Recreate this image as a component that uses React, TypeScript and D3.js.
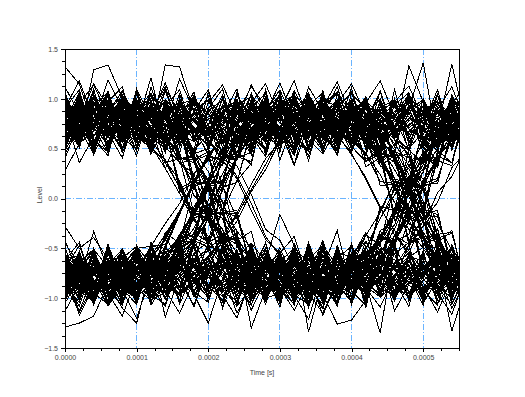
import { useRef, useEffect } from "react";
import * as d3 from "d3";

// sample instants of one eye window (s)
const sampleTimes = [
  0, 0.00002, 0.00004, 0.00006, 0.00008, 0.0001, 0.00012, 0.00014, 0.00016, 0.00018,
  0.0002, 0.00022, 0.00024, 0.00026, 0.00028, 0.0003, 0.00032, 0.00034, 0.00036, 0.00038,
  0.0004, 0.00042, 0.00044, 0.00046, 0.00048, 0.0005, 0.00052, 0.00054, 0.00056,
];

// one row per eye trace: signal level at each sample instant
const traces: number[][] = [
  // high - high - high
  [.95,.58,.81,1.02,.49,.77,.63,1.08,.70,.42,.88,.99,.56,.74,1.05,.61,.83,.38,.92,.69,1.11,.55,.79,.97,.47,.86,.66,1.03,.72],
  [.60,.89,.44,.76,.98,.53,1.12,.71,.85,.57,.67,.93,.40,.82,.75,1.06,.59,.90,.64,.48,.84,1.01,.62,.77,.91,.52,.96,.68,.80],
  [1.32,1.15,.72,.94,.57,1.10,.80,.46,.99,.66,.87,.51,1.04,.78,.62,.95,.69,.43,.88,1.07,.73,.58,.92,.81,.50,1.00,.64,.86,.76],
  [.40,.78,.97,.61,.85,.70,.50,.92,1.09,.63,.74,.47,.89,.66,1.02,.38,.80,.97,.45,.71,.90,.58,.83,.69,1.06,.55,.79,.93,.48],
  [.95,.68,1.10,.55,.99,.82,.64,1.34,1.32,.87,.59,1.01,.74,.48,.96,.83,.61,1.05,.77,.53,.90,.72,1.08,.60,.86,.97,.50,.78,.91],
  [.74,.52,.90,.66,.41,.85,.97,.60,.76,1.04,.55,.81,.69,.44,.93,.78,.34,.88,1.00,.62,.47,.83,.71,.95,.57,.79,1.03,.65,.87],
  [.88,.60,1.29,1.34,1.01,.72,.95,.53,.81,1.00,.64,.87,.45,.92,.70,1.06,.58,.84,.76,.43,.98,.67,.80,.52,.94,.75,1.09,.61,.83],
  [.66,.93,.50,1.04,.75,.58,.86,1.12,.62,.45,.91,.73,1.00,.54,.68,.89,1.18,.77,.49,.84,.99,.63,.42,.95,.71,.82,.57,.97,.79],
  [.55,.84,.71,.99,.46,.80,.67,.92,.59,1.03,.73,.39,.86,.64,.97,.57,.82,1.01,.69,.88,.51,.76,.94,.61,.85,.70,1.05,.48,.90],
  [1.03,.70,.87,.52,.78,.96,.61,.83,.74,.48,1.07,.65,.91,.80,.56,.72,.98,.60,.85,1.12,.67,.44,.89,.79,.63,.93,.77,.54,1.00],
  [.79,1.06,.62,.88,.72,.43,.93,.81,.58,.97,.69,.84,1.10,.53,.76,.90,.65,.48,.95,.73,.82,1.02,.59,.70,.87,.46,.92,.68,.99],
  [.48,.74,.90,.63,1.08,.79,.56,.88,.97,.68,.52,.83,.75,1.04,.61,.86,.45,.78,.92,.66,.71,.96,.55,.81,1.01,.64,.89,.73,.58],
  [.72,.80,.91,.85,.66,.58,.70,.87,.96,.81,.64,.55,.69,.83,.78,.92,1.04,.88,.71,.62,.75,.90,.84,.67,.73,.86,.95,.79,.68],
  [.62,.55,.68,.79,.74,.90,1.01,.93,.77,.85,.70,.61,.74,.88,.97,.83,.69,.57,.66,.80,.92,.86,.71,.60,.78,.89,.82,.94,1.00],
  [.88,.95,.80,.69,.77,.64,.53,.67,.82,.90,.98,.84,.73,.60,.71,.86,.79,.93,.85,.72,.63,.58,.76,.87,.99,.91,.74,.69,.81],
  [.59,.67,.81,.88,.72,.79,.93,.84,.65,.57,.71,.80,.95,1.02,.89,.76,.68,.82,.90,.77,.66,.73,.85,.92,.70,.61,.64,.78,.87],
  [.81,.70,.63,.76,.89,.97,.86,.75,.92,.83,.68,.78,.91,.84,.69,.58,.72,.87,.79,.94,1.05,.90,.74,.66,.80,.93,.85,.72,.60],
  [.70,.84,.77,.62,.57,.73,.86,.80,.94,1.00,.85,.74,.66,.79,.90,.82,.95,.76,.63,.71,.88,.81,.69,.83,.96,.87,.75,.91,.84],
  [.70,.78,1.15,.92,.64,.81,.55,.73,1.20,.88,.67,.94,.76,.52,.85,1.16,.79,.61,.90,.71,.58,.96,1.18,.83,.65,.74,.89,1.12,.77],
  [.83,.36,.62,.88,.79,.97,.71,.30,.66,.84,.91,.58,.77,1.14,.86,.69,.33,.75,.92,.80,.64,.43,.87,.73,.98,.60,.35,.82,.70],
  [.57,.66,.79,.72,.87,.69,.61,.75,.58,.49,.64,.70,.56,.81,.62,.53,.68,.77,.60,.71,.52,.65,.74,.59,.50,.67,.63,.55,.72],
  // low - low - low
  [-.80,-.54,-.97,-.66,-1.05,-.72,-.48,-.89,-.61,-.99,-.76,-1.08,-.57,-.84,-.69,-.93,-.45,-.81,-1.02,-.63,-.88,-.70,-.52,-.95,-.78,-.60,-1.06,-.83,-.73],
  [-1.29,-1.25,-1.18,-.86,-1.10,-1.25,-.67,-.94,-.53,-.81,-1.00,-.71,-.60,-.92,-.77,-.49,-.86,-1.07,-.68,-.96,-.58,-.83,-.74,-1.03,-.62,-.90,-.70,-.98,-.79],
  [-.66,-.91,-.52,-.84,-.73,-1.01,-.59,-.88,-.95,-.40,-.75,-1.04,-.64,-.79,-.97,-.56,-.82,-1.09,-.70,-.32,-.92,-.67,-.85,-1.00,-.55,-.78,-.61,-1.33,-.87],
  [-.92,-.68,-.83,-1.06,-.57,-.88,-.75,-1.01,-.62,-.96,-1.25,-.80,-.54,-1.30,-.91,-.71,-.59,-.99,-.84,-1.07,-.66,-.93,-.78,-.50,-1.02,-.74,-.87,-1.00,-.63],
  [-.71,-.47,-.89,-.78,-.58,-1.03,-.44,-.82,-.96,-.65,-.52,-.90,-1.08,-.60,-.79,-.97,-.49,-.84,-.68,-1.05,-.57,-.86,-1.35,-.50,-.95,-.66,-1.01,-.61,-.83],
  [-.85,-.64,-1.07,-.53,-.91,-1.00,-.69,-.82,-.45,-.94,-1.04,-.62,-.55,-.88,-.76,-1.09,-.51,-1.34,-.80,-.97,-.63,-.90,-.58,-.79,-.47,-1.02,-.72,-.95,-.86],
  [-.28,-.50,-.39,-.61,-.87,-.48,-.76,-.58,-.93,-.44,-.70,-.85,-.51,-.97,-.63,-.16,-.47,-.74,-1.01,-.55,-.82,-.43,-.69,-.92,-.57,-.78,-.49,-.88,-.62],
  [-.77,-1.00,-.62,-1.08,-.86,-.55,-.99,-.73,-.64,-.94,-.59,-1.10,-.71,-.92,-.50,-1.02,-.79,-.60,-.96,-1.26,-1.22,-1.02,-.68,-.97,-.56,-1.05,-.81,-.63,-.95],
  [-.62,-.88,-.74,-1.03,-.50,-.81,-.95,-.58,-.77,-1.09,-.66,-.43,-.89,-.72,-1.00,-.60,-.84,-.53,-.98,-.70,-1.06,-.64,-.87,-.46,-.79,-.93,-.57,-.82,-.69],
  [-1.02,-.69,-.55,-.90,-.76,-.61,-1.07,-.84,-.49,-.97,-.73,-.59,-1.01,-.80,-.44,-.92,-.67,-.85,-1.11,-.63,-.78,-.95,-.52,-.71,-.99,-.58,-.88,-.75,-1.04],
  [-.83,-1.08,-.64,-.77,-.95,-.52,-.86,-.70,-1.02,-.61,-.90,-.47,-.79,-.98,-.66,-.74,-1.05,-.57,-.82,-.93,-.45,-.89,-.68,-1.00,-.76,-.54,-.96,-.71,-.87],
  [-.57,-.79,-.94,-.46,-.85,-.70,-1.00,-.63,-.89,-.75,-.98,-.54,-.81,-.67,-1.06,-.60,-.91,-.78,-.42,-.87,-.72,-1.03,-.65,-.84,-.59,-.97,-.74,-.51,-.90],
  [-.74,-.86,-.93,-.80,-.67,-.59,-.71,-.85,-.96,-.88,-.72,-.63,-.70,-.82,-.91,-.78,-.66,-.75,-.89,-1.00,-.87,-.73,-.61,-.69,-.84,-.92,-.79,-.68,-.76],
  [-.63,-.57,-.72,-.81,-.75,-.90,-1.02,-.94,-.78,-.66,-.73,-.87,-.80,-.69,-.58,-.67,-.83,-.95,-.86,-.71,-.64,-.77,-.90,-.98,-.85,-.70,-.62,-.74,-.88],
  [-.90,-.97,-.84,-.70,-.78,-.65,-.55,-.68,-.83,-.92,-.79,-.71,-.86,-.99,-.88,-.74,-.62,-.73,-.85,-.93,-.81,-.67,-.59,-.72,-.87,-.96,-.80,-.69,-.64],
  [-.58,-.69,-.82,-.89,-.73,-.80,-.94,-.85,-.66,-.60,-.74,-.88,-.97,-.83,-.70,-.79,-.91,-.76,-.65,-.72,-.86,-.95,-.81,-.68,-.63,-.77,-.90,-.84,-.71],
  [-.82,-.71,-.64,-.77,-.90,-.98,-.87,-.76,-.69,-.81,-.93,-.85,-.72,-.60,-.68,-.80,-.89,-.96,-.83,-.70,-.75,-.88,-.99,-.86,-.73,-.66,-.78,-.91,-.79],
  [-.69,-.83,-.76,-.63,-.58,-.72,-.85,-.94,-.88,-.75,-.67,-.79,-.92,-1.01,-.87,-.74,-.61,-.70,-.84,-.90,-.78,-.65,-.73,-.86,-.95,-.82,-.71,-.80,-.89],
  [-.75,-1.17,-.88,-.62,-.83,-.94,-.56,-1.19,-.78,-.69,-.91,-.74,-1.15,-.85,-.60,-.79,-.97,-1.21,-.72,-.66,-.89,-.81,-.58,-1.13,-.86,-.70,-.95,-1.16,-.77],
  [-.64,-.82,-.33,-.71,-.90,-.57,-.79,-.36,-.68,-.85,-.74,-.31,-.62,-.93,-.77,-.55,-.38,-.81,-.70,-.96,-.59,-.34,-.73,-.87,-.63,-.80,-.42,-.69,-.84],
  [-.57,-.64,-.51,-.69,-.60,-.48,-.66,-.55,-.73,-.62,-.50,-.67,-.58,-.45,-.63,-.71,-.54,-.61,-.47,-.68,-.56,-.65,-.52,-.70,-.59,-.49,-.64,-.57,-.62],
  // high - high - low
  [.78,1.01,.56,.89,.64,1.07,.49,.83,.95,.61,.74,1.04,.52,.86,.97,.68,.43,.91,.80,.58,1.00,.83,.36,.47,-.14,-.12,-.73,-.58,-.94],
  [.57,.82,1.03,.47,.91,.66,1.06,.79,.53,.88,1.09,.62,.45,.95,.74,.59,1.02,.70,.87,.48,.80,.32,.41,-.18,-.19,-.71,-.55,-.98,-.62],
  [.96,.62,1.08,.71,.50,.93,.77,.99,.45,1.02,.67,.85,.54,1.06,.72,.49,.98,.66,1.04,.58,.90,.74,.86,.39,.54,-.17,-.18,-.64,-.57],
  [.45,.70,.86,1.05,.58,.92,.99,.47,.80,1.07,.55,.84,1.00,.63,.42,.89,1.05,.61,.96,.52,.79,.92,.41,.45,-.12,-.20,-.77,-.48,-.98],
  [1.06,.72,.55,.97,1.12,.63,.50,.94,.68,1.03,.48,.87,.99,.60,1.09,.53,.92,1.01,.66,.44,.98,.49,.75,.12,.16,-.41,-.35,-.91,-.57],
  [.55,.97,.46,.84,1.00,.51,.91,.64,1.05,.58,.87,.42,.99,.70,.56,1.07,.48,.88,1.01,.61,.86,.37,.50,-.22,-.08,-.76,-.44,-1.02,-.61],
  [.74,.53,1.01,.92,.57,.88,1.06,.47,.97,.60,.90,1.10,.54,.96,.44,1.01,.83,.51,.98,.93,.49,.95,.55,.67,.41,.19,-.40,-.35,-.87],
  [.91,1.09,.60,.43,.98,.72,.53,1.11,.68,.95,.49,1.02,.59,.90,1.06,.64,.45,.97,.58,1.04,.87,.60,.66,.14,.18,-.49,-.30,-.88,-.96],
  [.67,.88,.51,.95,.73,.84,.44,.99,.61,.78,1.03,.56,.86,.70,.47,.92,.75,.59,1.07,.65,.82,.52,.70,.43,-.20,-.22,-.66,-.81,-.60],
  [.83,.60,.97,.71,.48,1.05,.76,.58,.90,.67,.54,.94,.79,.45,1.00,.63,.85,.50,.73,.98,.52,.64,.13,.14,-.43,-.40,-.87,-.62,-.90],
  [.59,.93,.72,.46,1.04,.81,.65,.92,.52,.87,.99,.68,.41,.95,.76,.57,1.08,.82,.63,.89,.70,.95,.57,.72,.14,.09,-.45,-.32,-.91],
  [.98,.66,.85,1.03,.56,.74,.93,.48,1.01,.69,.80,.58,1.06,.62,.90,.71,.49,.97,.84,.55,.91,.60,.46,.41,.08,-.37,-.62,-.50,-.84],
  [.76,.88,.95,.82,.69,.61,.73,.86,.93,.79,.66,.74,.87,.96,.84,.71,.63,.78,.90,.83,.68,.55,.38,.20,-.08,-.34,-.55,-.77,-.86],
  [.66,.59,.71,.84,.92,.80,.67,.75,.89,.97,.85,.72,.64,.77,.90,.81,.70,.62,.74,.88,.93,.79,.66,.49,.24,-.06,-.37,-.66,-.80],
  [.85,.78,.64,.70,.83,.95,.88,.74,.63,.69,.82,.91,.80,.68,.75,.87,.94,.83,.71,.65,.78,.70,.52,.29,.05,-.22,-.48,-.63,-.70],
  [.93,.81,.70,.62,.76,.89,.97,.84,.72,.66,.79,.90,.98,.86,.73,.61,.68,.82,.91,.77,.69,.84,.74,.55,.33,.08,-.25,-.52,-.66],
  [.61,.73,.87,.80,.68,.77,.92,.99,.85,.71,.63,.76,.89,.82,.70,.59,.72,.85,.94,.86,.75,.66,.47,.36,.02,-.24,-.47,-.70,-.84],
  [.79,.91,.84,.72,.65,.78,.88,.96,.81,.69,.74,.86,.93,.77,.64,.71,.83,.92,.80,.67,.58,.45,.24,-.04,-.31,-.50,-.73,-.83,-.69],
  [1.12,.85,.74,1.19,.90,.67,.83,1.16,.78,.59,.96,1.14,.82,.70,.88,1.09,.76,.63,.92,1.17,.81,.69,.86,.35,.30,-.03,-.52,-.80,-1.11],
  [.74,.90,.62,.85,.97,.68,.80,.59,.92,.77,.66,.88,.95,.71,.83,.64,.91,.79,.69,.64,.45,.19,-.10,-.32,-.58,-.63,-.86,-.73,-.92],
  // low - low - high
  [-.72,-1.00,-.53,-.86,-1.04,-.61,-.91,-.47,-.83,-1.07,-.65,-.94,-.57,-1.01,-.78,-.95,-.50,-1.09,-.68,-.88,-1.02,-.74,-.38,-.45,.16,.11,.70,.52,.95],
  [-.97,-.60,-1.05,-.76,-.52,-.89,-.68,-1.00,-.58,-.84,-.45,-.93,-1.03,-.66,-.55,-.90,-.71,-1.08,-.57,-.92,-.49,-.66,-.12,.17,.19,.69,.55,1.00,.60],
  [-.60,-.89,-.99,-.54,-1.02,-.79,-.48,-.96,-.88,-.61,-.98,-.50,-.83,-1.07,-.66,-.92,-.55,-.74,-1.03,-.47,-.86,-.63,-.81,-.36,-.52,.15,.20,.61,.55],
  [-1.05,-.80,-.56,-.99,-.67,-.52,-.93,-.71,-1.04,-.46,-.87,-.62,-.98,-.54,-.77,-1.03,-.50,-.91,-.84,-.60,-.48,-.90,-.37,-.43,-.19,.44,.31,.87,.65],
  [-.56,-.82,-1.01,-.47,-.91,-1.06,-.63,-.88,-.52,-.99,-.74,-.58,-1.08,-.90,-.51,-.81,-1.02,-.57,-.86,-.97,-.60,-.43,-.71,-.12,.22,.10,.74,.57,1.01],
  [-.88,-1.04,-.62,-.95,-.79,-.49,-.97,-1.06,-.58,-.83,-.92,-.53,-.76,-1.02,-.68,-.55,-1.00,-.84,-.45,-.94,-.65,-.36,-.47,.15,.07,.73,.46,.99,.58],
  [-.94,-.58,-.81,-1.08,-.63,-.99,-.51,-.74,-1.02,-.55,-.91,-.70,-1.05,-.46,-.85,-.62,-.97,-.54,-1.00,-.79,-.92,-.48,-.83,-.56,-.44,-.18,.43,.36,.83],
  [-.62,-.44,-.90,-.78,-1.07,-.53,-1.02,-.85,-.70,-.48,-1.04,-.59,-.92,-.46,-1.00,-.95,-.61,-.86,-1.09,-.51,-.83,-.64,-.62,-.14,.20,.47,.33,.96,.60],
  [-.80,-.57,-1.01,-.69,-.93,-.47,-.88,-.62,-1.06,-.73,-.58,-.97,-.83,-.51,-1.00,-.70,-.92,-.44,-.86,-1.03,-.64,-.89,-.45,-.27,.12,.30,.60,.91,.66],
  [-1.00,-.74,-.51,-.96,-.86,-.59,-1.05,-.67,-.93,-.48,-.88,-1.02,-.55,-.77,-.99,-.63,-.50,-.90,-1.06,-.56,-.82,-.50,-.20,.09,.37,.41,.90,.61,.96],
  [-.48,-.95,-.66,-1.03,-.76,-.54,-.90,-1.08,-.61,-.84,-.99,-.45,-.72,-.94,-.57,-.87,-1.01,-.64,-.52,-.96,-.69,-.80,-.55,-.67,-.20,-.12,.38,.33,.94],
  [-.90,-.65,-.98,-.55,-.81,-1.03,-.60,-.87,-.72,-.46,-.95,-.68,-.53,-1.06,-.79,-.58,-.84,-1.00,-.49,-.73,-.92,-.59,-.40,-.43,.07,.26,.71,.52,.88],
  [-.78,-.90,-.83,-.70,-.64,-.76,-.88,-.95,-.81,-.68,-.73,-.86,-.94,-.79,-.66,-.72,-.85,-.92,-.80,-.69,-.71,-.58,-.40,-.12,.10,.38,.57,.73,.84],
  [-.64,-.72,-.85,-.93,-.79,-.68,-.75,-.88,-.97,-.84,-.70,-.62,-.74,-.87,-.91,-.77,-.66,-.73,-.86,-.94,-.82,-.76,-.60,-.44,-.18,.11,.42,.58,.75],
  [-.88,-.76,-.67,-.73,-.86,-.94,-.83,-.70,-.62,-.75,-.89,-.98,-.85,-.71,-.64,-.78,-.90,-.82,-.69,-.75,-.79,-.64,-.45,-.18,.13,.44,.63,.70,.81],
  [-.70,-.83,-.91,-.78,-.65,-.60,-.73,-.87,-.95,-.81,-.68,-.77,-.89,-.84,-.71,-.63,-.76,-.92,-.87,-.74,-.67,-.70,-.63,-.38,-.16,.19,.39,.66,.71],
  [-.93,-.80,-.71,-.65,-.78,-.90,-.97,-.85,-.73,-.66,-.79,-.91,-.86,-.72,-.61,-.70,-.84,-.95,-.88,-.76,-.82,-.63,-.55,-.31,.05,.27,.50,.74,.82],
  [-.61,-.74,-.88,-.96,-.83,-.70,-.66,-.79,-.92,-.85,-.71,-.64,-.77,-.90,-.98,-.84,-.72,-.65,-.80,-.87,-.64,-.51,-.20,.03,.33,.55,.69,.80,.88],
  [-1.13,-.87,-.70,-.95,-1.18,-.79,-.66,-.92,-1.15,-.83,-.71,-.97,-1.20,-.80,-.68,-.90,-1.12,-.85,-.74,-.93,-.61,-.72,-.32,-.27,.20,.29,.72,.95,1.14],
  [-.70,-.84,-.96,-.65,-.79,-.88,-.61,-.93,-.75,-.67,-.90,-.82,-.58,-.86,-.97,-.72,-.63,-.89,-.78,-.94,-.68,-.81,-.73,-.66,-.55,-.22,-.04,.31,.47],
  // high - low - low
  [.80,.52,.97,.66,1.03,.59,.91,.57,.68,.17,.14,-.45,-.38,-.87,-.60,-1.02,-.49,-.93,-.71,-1.05,-.56,-.84,-.98,-.64,-.79,-1.07,-.52,-.90,-.70],
  [.63,.99,.50,.86,1.08,.71,.55,.70,.10,.18,-.44,-.36,-.92,-.58,-.83,-1.04,-.60,-.89,-.47,-.97,-.73,-1.01,-.54,-.86,-.66,-.95,-.50,-1.06,-.77],
  [.91,.62,1.04,.49,.83,1.00,.68,.86,.56,.72,.43,-.12,-.14,-.70,-.50,-.96,-.58,-1.04,-.71,-.88,-.49,-.99,-.65,-.83,-1.08,-.55,-.92,-.74,-1.00],
  [1.02,.70,.55,.96,.81,.48,1.06,.58,.72,.38,-.12,-.20,-.69,-.58,-.95,-.52,-1.00,-.77,-.63,-1.08,-.47,-.90,-.71,-.55,-1.03,-.67,-.97,-.46,-.84],
  [.28,.55,.92,.47,1.01,.65,.86,.52,.77,.20,.13,-.38,-.46,-.81,-.62,-1.01,-.53,-.88,-.99,-.57,-1.06,-.69,-.94,-.48,-1.02,-.78,-.55,-.96,-.63],
  [.88,.57,.94,1.06,.60,.99,.47,.67,.15,-.16,-.12,-.70,-.55,-.96,-.58,-.91,-1.06,-.53,-.80,-.99,-.61,-1.09,-.50,-.94,-.70,-1.01,-.47,-.85,-1.03],
  [.69,1.03,.48,.93,.60,1.05,.77,.58,.84,.38,.44,-.14,-.18,-.70,-.87,-.55,-.97,-1.06,-.51,-.90,-.99,-.60,-.45,-1.02,-.73,-.92,-1.07,-.56,-.81],
  [.76,.95,.56,.47,1.03,.87,.53,.86,.39,.44,-.14,-.16,-.73,-.53,-.97,-.60,-1.03,-.84,-.48,-.95,-.70,-1.05,-.58,-.87,-.99,-.52,-1.06,-.65,-.91],
  [.58,.83,1.05,.70,.49,.92,.61,.90,.40,.41,-.10,-.41,-.41,-.95,-.66,-.88,-.50,-1.04,-.74,-.57,-.93,-1.07,-.62,-.81,-.46,-.98,-.71,-.89,-1.05],
  [1.05,.66,.89,.53,.97,.72,.85,.36,.40,-.15,-.19,-.61,-.80,-.64,-1.02,-.58,-.93,-.47,-.86,-1.07,-.69,-.54,-.99,-.77,-.60,-1.04,-.82,-.50,-.92],
  [.54,.90,.71,1.08,.62,.49,.96,.60,.81,.45,.50,.13,-.20,-.54,-.93,-.64,-.98,-.54,-.88,-1.05,-.61,-.84,-.96,-.49,-.75,-1.03,-.66,-.90,-.57],
  [.95,.74,.50,.87,.64,1.09,.68,.92,.41,.36,.09,-.42,-.36,-.84,-.88,-.53,-.98,-.72,-1.03,-.59,-.85,-.47,-.94,-.68,-1.01,-.62,-.89,-1.06,-.74],
  [.82,.93,.79,.66,.72,.85,.70,.52,.36,.20,-.06,-.32,-.55,-.79,-.88,-.74,-.63,-.77,-.91,-.84,-.70,-.65,-.79,-.92,-.86,-.73,-.68,-.80,-.94],
  [.68,.76,.89,.97,.83,.71,.64,.78,.70,.48,.27,-.05,-.33,-.50,-.80,-.90,-.77,-.66,-.74,-.87,-.95,-.82,-.69,-.61,-.75,-.89,-.83,-.70,-.78],
  [.90,.81,.70,.77,.88,.67,.53,.30,.05,-.22,-.38,-.68,-.79,-.86,-.71,-.65,-.78,-.92,-.85,-.73,-.62,-.70,-.84,-.96,-.81,-.69,-.76,-.90,-.83],
  [.73,.85,.94,.80,.67,.75,.89,.83,.70,.79,.56,.45,.22,-.05,-.38,-.58,-.74,-.86,-.72,-.64,-.79,-.91,-.83,-.70,-.68,-.81,-.93,-.77,-.71],
  [.60,.72,.86,.78,.65,.80,.63,.66,.35,.25,-.20,-.35,-.67,-.70,-.83,-.95,-.80,-.69,-.61,-.76,-.88,-.93,-.79,-.67,-.72,-.85,-.96,-.82,-.74],
  [.95,.84,.72,.66,.79,.91,.82,.70,.58,.50,.10,-.02,-.49,-.55,-.74,-.67,-.80,-.93,-.86,-.71,-.64,-.77,-.90,-.97,-.84,-.70,-.63,-.75,-.89],
  [.79,.95,1.14,.83,.68,.90,.77,1.10,.86,.71,.60,.39,.33,.04,-.31,-.42,-.70,-.95,-1.15,-.82,-.67,-.90,-1.09,-.78,-.63,-.88,-1.14,-.80,-.72],
  // low - high - high
  [-.76,-1.02,-.55,-.88,-.64,-.99,-.50,-.80,-.40,-.36,.15,.18,.62,.58,.96,.61,1.04,.73,.49,.90,1.07,.56,.85,.66,1.33,.97,.52,.81,1.03],
  [-.82,-.56,-1.00,-.68,-.93,-.47,-.90,-.34,-.45,.12,.17,.66,.51,1.00,.62,.88,1.05,.53,.79,.95,.60,.46,.99,.72,.90,1.36,.58,.93,.67],
  [-.64,-.94,-.53,-1.04,-.77,-.59,-.98,-.86,-.50,-.42,-.49,.11,.16,.68,.57,1.00,.58,.91,.74,.48,1.06,.63,.87,.98,.55,.82,.69,1.35,.71],
  [-1.00,-.62,-.87,-.50,-.95,-.58,-1.06,-.49,-.66,-.15,-.19,.45,.41,.90,.67,.49,1.02,.62,1.08,.56,.85,.97,.48,1.00,.63,.93,.52,1.04,.76],
  [-.45,-.66,-.95,-1.06,-.53,-1.01,-.72,-.86,-.36,-.14,.20,.50,.38,.79,1.00,.55,.71,1.06,.50,.96,.58,.99,.67,.45,1.05,.80,.51,.94,.69],
  [-.70,-1.01,-.50,-.92,-1.07,-.61,-.77,-.39,-.13,.18,.40,.33,.93,.62,.49,.97,1.03,.59,.45,.99,.86,.55,1.08,.64,.48,1.00,.71,.90,.54],
  [-.93,-.55,-1.02,-.61,-1.06,-.48,-.90,-.79,-.52,-.65,-.16,-.15,.41,.46,.90,1.03,.58,.47,.95,1.07,.56,.83,1.00,.61,.92,.50,1.04,.69,.88],
  [-1.02,-.66,-.57,-1.08,-.71,-.94,-.47,-.86,-.42,-.44,.14,.18,.63,.51,.99,.46,1.05,.70,.92,.52,.79,1.01,.56,.94,1.06,.62,.47,1.02,.83],
  [-.58,-.87,-1.05,-.69,-.96,-.51,-.83,-.66,-.48,-.20,-.12,.42,.38,.97,.59,.86,.54,1.03,.69,.44,.95,.73,.51,1.09,.60,.88,.98,.57,.74],
  [-.99,-.72,-.51,-.90,-.62,-1.05,-.48,-.50,-.16,.17,.42,.40,.87,.55,1.01,.64,.48,.93,1.06,.57,.80,.94,.49,.71,1.03,.59,.87,.66,.98],
  [-.67,-.92,-1.04,-.55,-.84,-.98,-.60,-.53,-.78,-.34,-.44,-.12,.47,.34,.96,.62,.89,.50,1.02,.74,.47,.99,.68,.85,1.04,.57,.92,.73,.50],
  [-.86,-.53,-.97,-.70,-1.00,-.63,-.92,-.72,-.60,-.09,.18,.14,.71,.47,.83,1.04,.59,.91,.64,.96,.51,.78,1.07,.62,.89,.99,.55,.84,.70],
  [-.80,-.92,-.77,-.65,-.71,-.86,-.73,-.55,-.38,-.17,.09,.36,.58,.75,.90,.81,.67,.74,.88,.95,.80,.69,.62,.77,.91,.84,.72,.80,.93],
  [-.67,-.75,-.90,-.96,-.81,-.70,-.66,-.79,-.65,-.45,-.12,.19,.39,.66,.78,.93,.85,.71,.64,.76,.89,.98,.83,.68,.74,.87,.80,.70,.77],
  [-.91,-.82,-.69,-.78,-.87,-.64,-.58,-.36,-.13,.18,.44,.58,.77,.84,.72,.63,.79,.91,.86,.70,.66,.75,.89,.96,.82,.69,.74,.88,.81],
  [-.71,-.86,-.95,-.79,-.68,-.74,-.88,-.81,-.72,-.77,-.58,-.40,-.17,.09,.34,.61,.76,.89,.73,.65,.80,.93,.84,.71,.67,.82,.95,.78,.70],
  [-.62,-.73,-.87,-.80,-.64,-.79,-.66,-.60,-.39,-.11,.13,.44,.63,.69,.82,.96,.79,.70,.62,.75,.87,.92,.78,.66,.73,.86,.97,.83,.74],
  [-.96,-.83,-.71,-.64,-.80,-.90,-.84,-.72,-.55,-.44,-.20,.08,.42,.61,.70,.68,.81,.94,.87,.72,.63,.78,.91,.99,.85,.71,.62,.76,.88],
  [-.87,-1.13,-.76,-.94,-.66,-.50,-.48,-.25,-.05,.25,.38,.69,.85,1.12,.93,.76,1.08,.82,.69,.95,1.15,.84,.71,.97,1.13,.79,.66,.90,1.06],
  // high - low - high
  [.77,.51,.96,.68,1.03,.60,.92,.57,.72,.12,-.16,-.39,-.71,-.56,-1.00,-.58,-.94,-.69,-1.05,-.50,-.88,-.61,-.74,-.14,.14,.13,.78,.52,.99],
  [.95,.62,.86,1.06,.50,.88,.58,.72,.07,.16,-.51,-.38,-.88,-.57,-.96,-.64,-1.04,-.52,-.83,-.98,-.54,-.65,-.08,-.12,.49,.35,.89,.60,1.00],
  [.66,1.00,.54,.92,.73,.48,.97,.81,.56,.70,.45,-.15,-.15,-.73,-.45,-1.00,-.63,-.92,-.51,-.86,-1.04,-.59,-.88,-.37,-.46,.14,.15,.70,.50],
  [.52,.85,.69,1.04,.58,.96,.71,.56,.70,.16,.16,-.47,-.34,-.90,-.61,-1.02,-.55,-.97,-.66,-.89,-.48,-.98,-.37,-.46,.17,.10,.71,.54,.96],
  [1.01,.64,.89,.50,.93,.57,1.05,.53,.70,.43,-.15,-.14,-.73,-.52,-.98,-.62,-.89,-1.05,-.56,-.93,-.70,-.37,-.46,.14,.10,.72,.50,.97,.62],
  [.60,.93,.47,.86,1.04,.66,.52,.72,.12,-.17,-.14,-.72,-.54,-1.00,-.59,-.85,-1.07,-.50,-.90,-.66,-.98,-.60,-.36,-.49,.18,.12,.74,.50,.99],
  [.88,.56,1.03,.73,.49,.97,.83,.52,.90,.39,.47,-.14,-.12,-.76,-.52,-.93,-.63,-1.04,-.47,-.88,-.71,-.55,-.71,-.09,-.18,.45,.37,.93,.61],
  [.70,1.05,.58,.48,.96,.79,.61,.51,.76,.14,.18,-.46,-.35,-.91,-.62,-.97,-.53,-.86,-1.02,-.60,-.89,-.54,-.98,-.45,-.14,-.11,.48,.36,.94],
  [.99,.71,.45,.90,.62,1.06,.55,.88,.40,.43,-.12,-.16,-.74,-.48,-.95,-.70,-1.02,-.61,-.84,-.50,-1.00,-.57,-.40,-.10,-.16,.42,.36,.88,.72],
  [.57,.94,.75,.52,1.02,.80,.48,.39,.10,-.14,-.22,-.64,-.87,-.61,-1.03,-.73,-.50,-.96,-.88,-.54,-.59,-.37,-.14,.16,.16,.68,.57,.96,.64],
  [.82,.54,.97,.64,1.08,.71,.50,.92,.80,.43,.18,.15,-.42,-.33,-.88,-.60,-1.01,-.55,-.93,-.71,-.98,-.52,-.82,-.43,-.36,.12,.18,.65,.53],
  [.49,.88,1.02,.70,.57,.95,.67,.85,.35,.40,.11,-.43,-.40,-.87,-.60,-1.05,-.66,-.79,-.98,-.51,-.90,-.74,-.33,-.42,.09,.34,.66,.96,.57],
  [.84,.92,.78,.67,.73,.88,.71,.58,.39,.12,-.18,-.40,-.64,-.77,-.90,-.81,-.68,-.75,-.89,-.94,-.74,-.57,-.43,-.11,.18,.40,.66,.74,.86],
  [.70,.77,.90,.95,.81,.69,.65,.80,.63,.43,.17,-.13,-.45,-.62,-.78,-.92,-.83,-.70,-.66,-.79,-.88,-.69,-.64,-.38,-.10,.12,.44,.63,.77],
  [.93,.79,.68,.80,.86,.74,.59,.38,.18,-.19,-.43,-.59,-.75,-.88,-.73,-.66,-.80,-.93,-.85,-.70,-.75,-.56,-.39,-.18,.16,.43,.58,.77,.83],
  [.66,.83,.95,.79,.70,.73,.87,.80,.68,.81,.58,.38,.20,-.12,-.41,-.55,-.78,-.87,-.70,-.63,-.82,-.75,-.58,-.46,-.13,.18,.38,.66,.73],
  [.61,.74,.85,.77,.66,.82,.68,.61,.44,.11,-.15,-.44,-.58,-.73,-.85,-.96,-.79,-.69,-.62,-.78,-.87,-.71,-.66,-.43,-.12,.17,.41,.58,.79],
  [.96,.86,.74,.68,.80,.90,.83,.69,.64,.37,.17,-.17,-.38,-.64,-.70,-.81,-.93,-.85,-.72,-.64,-.77,-.62,-.38,-.16,.14,.44,.64,.71,.86],
  [.91,1.18,.80,.69,.95,.73,1.21,.62,.46,.03,-.12,-.52,-.76,-1.12,-.82,-.69,-.93,-.77,-1.17,-.84,-.72,-.90,-.58,-.48,-.05,.27,.50,.82,1.10],
  [.88,.71,.96,.64,.80,.65,.52,.36,.11,-.21,-.47,-.55,-.82,-.76,-.93,-.67,-.85,-.71,-.98,-.80,-.62,-.90,-.74,-.69,-.47,-.28,.06,.22,.52],
  // low - high - low
  [-.74,-1.01,-.53,-.90,-.66,-1.06,-.58,-.82,-.38,-.42,.15,.16,.73,.55,1.00,.60,.92,.51,1.04,.69,.88,.57,.40,.45,-.15,-.14,-.72,-.50,-.96],
  [-.95,-.62,-.88,-.52,-1.03,-.73,-.60,-.40,-.12,.15,.44,.37,.88,.61,1.02,.53,.90,.66,.48,.98,.72,.40,.45,-.16,-.09,-.70,-.52,-.97,-.64],
  [-.69,-.97,-.55,-1.06,-.80,-.49,-.91,-.64,-.88,-.55,-.43,.12,.16,.70,.50,.95,.62,1.03,.47,.89,.70,.98,.56,.47,.41,-.11,-.16,-.65,-.50],
  [-.42,-.78,-.97,-.60,-.86,-1.02,-.55,-.71,-.57,-.14,-.11,.45,.38,.92,.56,.99,.64,.47,.93,1.05,.59,.80,.38,.49,.13,-.46,-.40,-.88,-.62],
  [-.88,-.58,-1.04,-.66,-.51,-.95,-.79,-.60,-.36,-.18,.14,.43,.40,.97,.57,.88,.50,1.05,.68,.93,.52,.37,.45,.15,-.42,-.34,-.90,-.58,-1.00],
  [-.76,-1.00,-.60,-.93,-.50,-.85,-.66,-.49,-.12,.16,.45,.33,.93,.57,.99,.68,1.06,.53,.87,.61,.95,.49,.64,.14,.16,-.48,-.35,-.90,-.57],
  [-.84,-.59,-1.02,-.73,-.52,-.97,-.63,-.85,-.49,-.64,-.17,-.14,.42,.37,.95,.60,.91,.48,1.02,.76,.53,.95,.45,.41,-.12,-.14,-.72,-.48,-.97],
  [-.65,-.93,-.50,-1.07,-.82,-.56,-.99,-.60,-.47,-.16,.16,.42,.45,.99,.60,.84,1.03,.52,.90,.66,.98,.55,.77,.43,.44,-.15,-.12,-.74,-.55],
  [-1.03,-.70,-.88,-.48,-.95,-.62,-1.05,-.51,-.55,-.43,-.11,.18,.71,.50,.94,.57,.85,1.06,.62,.49,.97,.73,.33,.43,.09,-.41,-.60,-.95,-.66],
  [-.57,-.89,-.71,-1.05,-.62,-.98,-.48,-.46,-.15,.13,.42,.38,.95,.63,.50,1.02,.71,.88,.54,.97,.60,.45,.17,.15,-.46,-.37,-.93,-.62,-1.01],
  [-.91,-.63,-.99,-.55,-.79,-1.04,-.68,-.90,-.50,-.40,-.46,-.13,.18,.35,.96,.68,.49,1.00,.78,.57,.92,.63,.97,.58,.45,.13,-.36,-.34,-.90],
  [-.61,-.84,-1.04,-.70,-.93,-.52,-.87,-.75,-.40,-.38,.12,.16,.69,.58,.90,.49,1.01,.64,.86,.98,.55,.72,.60,.19,.17,-.37,-.68,-.55,-.94],
  [-.82,-.93,-.76,-.66,-.74,-.87,-.69,-.63,-.40,-.14,.17,.42,.60,.78,.89,.80,.66,.73,.87,.95,.69,.60,.39,.14,-.16,-.45,-.60,-.76,-.85],
  [-.69,-.77,-.91,-.96,-.82,-.68,-.64,-.79,-.62,-.39,-.17,.13,.43,.63,.79,.91,.84,.71,.65,.78,.89,.75,.58,.44,.12,-.18,-.40,-.65,-.74],
  [-.90,-.80,-.67,-.79,-.88,-.73,-.60,-.42,-.13,.14,.44,.62,.74,.86,.72,.64,.81,.93,.86,.71,.70,.63,.42,.10,-.15,-.45,-.59,-.73,-.81],
  [-.64,-.81,-.94,-.78,-.71,-.75,-.86,-.79,-.70,-.80,-.63,-.37,-.15,.14,.40,.57,.77,.88,.72,.65,.81,.70,.63,.38,.15,-.17,-.44,-.62,-.70],
  [-.60,-.72,-.86,-.79,-.67,-.81,-.70,-.58,-.44,-.12,.19,.39,.62,.75,.84,.95,.80,.69,.63,.79,.86,.76,.60,.41,.19,-.13,-.44,-.59,-.76],
  [-.95,-.84,-.73,-.67,-.81,-.91,-.80,-.71,-.60,-.41,-.13,.16,.40,.67,.72,.80,.94,.85,.73,.66,.74,.58,.44,.13,-.18,-.40,-.62,-.77,-.88],
  [-.72,-1.14,-.85,-.66,-.92,-1.20,-.78,-.69,-.49,-.30,-.02,.25,.52,.96,1.15,.81,.68,1.12,.87,.74,.93,.55,.33,.21,-.25,-.36,-.75,-1.10,-.83],
  [-.83,-.66,-.91,-.74,-.97,-.69,-.80,-.62,-.88,-.76,-.59,-.41,-.23,.07,.29,.58,.66,.89,.75,.64,.44,.21,-.08,-.37,-.55,-.71,-.78,-.92,-.69],
];

const xDomain = [0, 0.00055];
const yDomain = [-1.5, 1.5];
const xMajor = [0, 0.0001, 0.0002, 0.0003, 0.0004, 0.0005];
const yMajor = [-1.5, -1, -0.5, 0, 0.5, 1, 1.5];
const xGrid = [0.0001, 0.0002, 0.0003, 0.0004, 0.0005];
const yGrid = [-1, -0.5, 0, 0.5, 1];

export default function App() {
  const svgRef = useRef<SVGSVGElement>(null);

  useEffect(() => {
    const svg = d3.select(svgRef.current);
    svg.selectAll("*").remove();

    const x = d3.scaleLinear().domain(xDomain).range([65, 459]);
    const y = d3.scaleLinear().domain(yDomain).range([348, 49]);
    const font = "'Liberation Sans', Arial, sans-serif";
    const gridColor = "#6ab4ff";

    svg.append("rect").attr("width", 525).attr("height", 397).attr("fill", "#fff");

    svg.append("defs").append("clipPath").attr("id", "plot-clip")
      .append("rect")
      .attr("x", x(xDomain[0])).attr("y", y(yDomain[1]))
      .attr("width", x(xDomain[1]) - x(xDomain[0]))
      .attr("height", y(yDomain[0]) - y(yDomain[1]));

    // grid (dash-dot, under the traces)
    const grid = svg.append("g").attr("stroke", gridColor).attr("stroke-width", 1)
      .attr("stroke-dasharray", "6,2,1,2").attr("shape-rendering", "crispEdges");
    grid.selectAll(".gx").data(xGrid).enter().append("line")
      .attr("x1", (d) => x(d)).attr("x2", (d) => x(d))
      .attr("y1", y(yDomain[1])).attr("y2", y(yDomain[0]));
    grid.selectAll(".gy").data(yGrid).enter().append("line")
      .attr("x1", x(xDomain[0])).attr("x2", x(xDomain[1]))
      .attr("y1", (d) => y(d)).attr("y2", (d) => y(d));

    // eye traces
    const line = d3.line<number>()
      .defined((d, i) => d != null && sampleTimes[i] != null)
      .x((_, i) => x(sampleTimes[i]))
      .y((d) => y(d));
    svg.append("g").attr("clip-path", "url(#plot-clip)")
      .selectAll("path").data(traces).enter().append("path")
      .attr("d", (d) => line(d))
      .attr("fill", "none")
      .attr("stroke", "#000")
      .attr("stroke-width", 1)
      .attr("shape-rendering", "crispEdges");

    // axes: minor ticks then labelled major ticks
    const xMinor = d3.range(0, 23).map((k) => k * 0.000025);
    const yMinor = d3.range(0, 25).map((k) => -1.5 + k * 0.125);

    const styleAxis = (g: d3.Selection<SVGGElement, unknown, null, undefined>) => {
      g.select(".domain").remove();
      g.selectAll("line").attr("stroke", "#000").attr("shape-rendering", "crispEdges");
      g.selectAll("text").attr("fill", "#444").attr("font-size", "7px").attr("font-family", font);
    };

    svg.append("g").attr("transform", `translate(0,${y(yDomain[0])})`)
      .call(d3.axisBottom(x).tickValues(xMinor).tickSize(3).tickFormat(() => ""))
      .call(styleAxis);
    svg.append("g").attr("transform", `translate(0,${y(yDomain[0])})`)
      .call(d3.axisBottom(x).tickValues(xMajor).tickSize(4).tickPadding(3).tickFormat(d3.format(".4f")))
      .call(styleAxis);
    svg.append("g").attr("transform", `translate(${x(xDomain[0])},0)`)
      .call(d3.axisLeft(y).tickValues(yMinor).tickSize(3).tickFormat(() => ""))
      .call(styleAxis);
    svg.append("g").attr("transform", `translate(${x(xDomain[0])},0)`)
      .call(d3.axisLeft(y).tickValues(yMajor).tickSize(4).tickPadding(3).tickFormat(d3.format(".1f")))
      .call(styleAxis);

    // plot frame
    svg.append("rect")
      .attr("x", x(xDomain[0])).attr("y", y(yDomain[1]))
      .attr("width", x(xDomain[1]) - x(xDomain[0]))
      .attr("height", y(yDomain[0]) - y(yDomain[1]))
      .attr("fill", "none").attr("stroke", "#000").attr("shape-rendering", "crispEdges");

    svg.append("text")
      .attr("x", (x(xDomain[0]) + x(xDomain[1])) / 2).attr("y", 375)
      .attr("text-anchor", "middle").attr("fill", "#444")
      .attr("font-size", "7px").attr("font-family", font)
      .text("Time [s]");

    svg.append("text")
      .attr("transform", `translate(42,195) rotate(-90)`)
      .attr("text-anchor", "middle").attr("fill", "#444")
      .attr("font-size", "7px").attr("font-family", font)
      .text("Level");
  }, []);

  return (
    <svg
      ref={svgRef}
      width={525}
      height={397}
      style={{ position: "absolute", left: 0, top: 0 }}
    />
  );
}
